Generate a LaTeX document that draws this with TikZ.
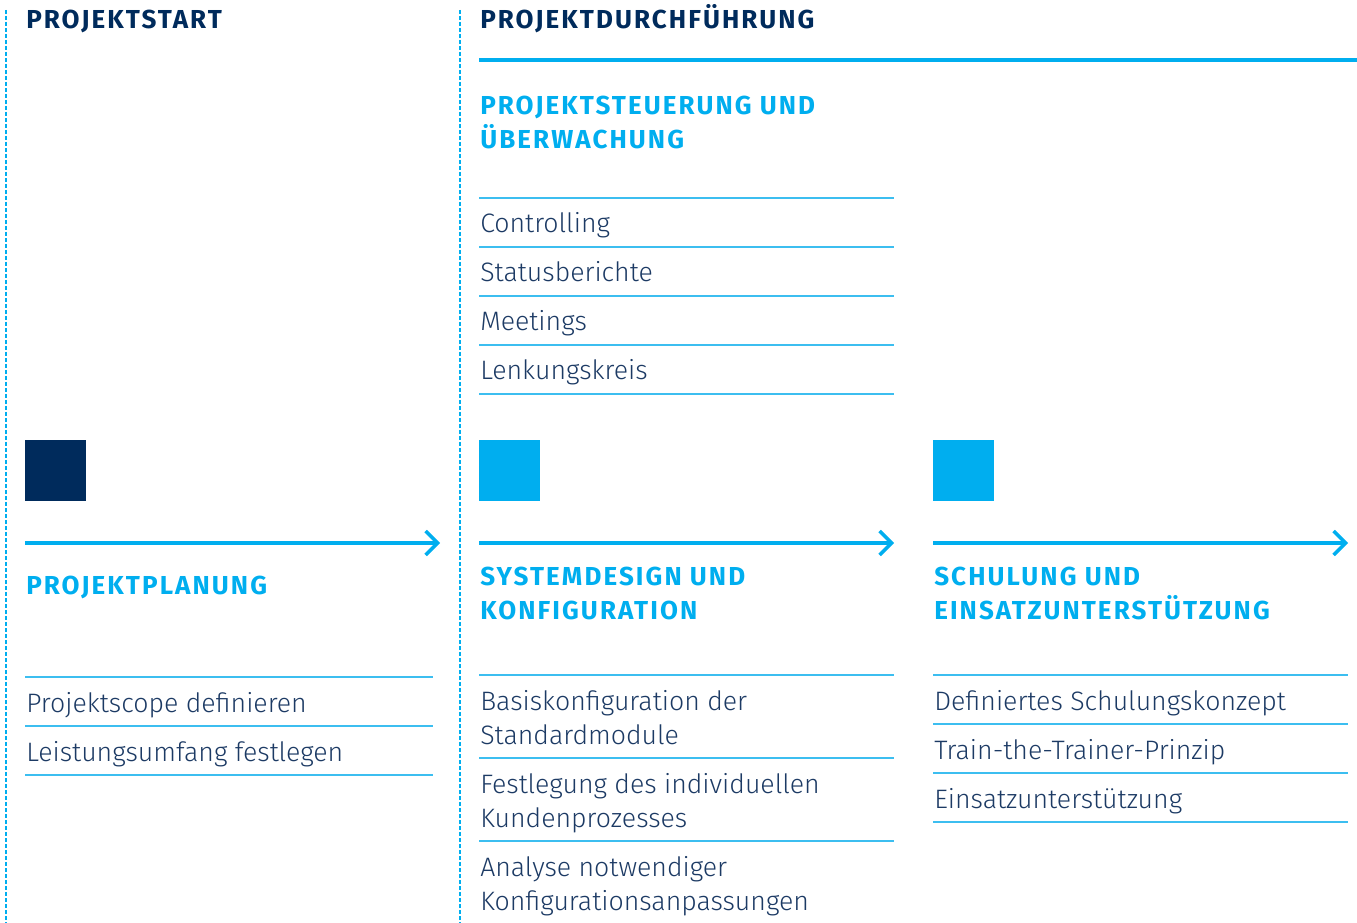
\documentclass[tikz,border=0pt]{standalone}
\usepackage{fontspec}
\setmainfont{Fira Sans}
\newfontfamily\headfont{Fira Sans}[LetterSpace=8]
\newfontfamily\bodyfont{Fira Sans Light}
\usepackage{tikz}
\usetikzlibrary{arrows.meta, positioning}
\definecolor{navycolor}{RGB}{0, 43, 92}
\definecolor{cyancolor}{RGB}{0, 174, 239}
\definecolor{rulecolor}{RGB}{60, 190, 240}
\definecolor{itemcolor}{RGB}{28, 58, 100}

\begin{document}
\begin{tikzpicture}[x=0.75pt, y=-0.75pt,
    stage/.style={anchor=base west, inner sep=0, align=left, text=cyancolor, font=\headfont\bfseries\fontsize{19.5}{25.5}\selectfont},
    item/.style={anchor=base west, inner sep=0, align=left, text=itemcolor, font=\bodyfont\fontsize{20}{25.2}\selectfont},
    rule/.style={draw=rulecolor, line width=1pt},
    flow/.style={draw=cyancolor, line width=2.6pt, -{Straight Barb[length=9pt, width=18pt, line width=2.6pt]}},
    marker/.style={minimum size=45.75pt, inner sep=0, outer sep=0},
    divider/.style={draw=cyancolor, line width=1pt, dash pattern=on 3pt off 1.5pt}
]
    \useasboundingbox (0,0) rectangle (1357,923);
    % phase dividers
    \draw[divider] (6,10) -- (6,923);
    \draw[divider] (460,10) -- (460,923);

    \node[stage, text=navycolor] (start) at (26,29) {PROJEKTSTART};
    \node[stage, text=navycolor] (run) at (480,29) {PROJEKTDURCHFÜHRUNG};
    \draw[cyancolor, line width=3pt] (479,60) -- (1357,60);

    % steering (base = last line)
    \node[stage] (steer) at (480,149) {PROJEKTSTEUERUNG UND\\ÜBERWACHUNG};
    \foreach \y/\t in {198/Controlling, 247/Statusberichte, 296/Meetings, 345/Lenkungskreis}
    {
        \draw[rule] (479,\y) -- (894,\y);
        \node[item] (steer-\y) at (480,\y+35) {\t};
    }
    \draw[rule] (479,394) -- (894,394);

    % phases
    \node[marker, fill=navycolor] (mark-plan) at (55.5,470.5) {};
    \node[marker, fill=cyancolor] (mark-design) at (509.5,470.5) {};
    \node[marker, fill=cyancolor] (mark-training) at (963.5,470.5) {};

    \draw[flow] (25,543) -- (440,543);
    \draw[flow] (479,543) -- (894,543);
    \draw[flow] (933,543) -- (1348,543);

    \node[stage] (plan) at (26,594) {PROJEKTPLANUNG};
    \node[stage] (design) at (480,619) {SYSTEMDESIGN UND\\KONFIGURATION};
    \node[stage] (training) at (934,619) {SCHULUNG UND\\EINSATZUNTERSTÜTZUNG};

    % planning items
    \foreach \y/\t in {677/Projektscope definieren, 726/Leistungsumfang festlegen}
    {
        \draw[rule] (25,\y) -- (433,\y);
        \node[item] (plan-\y) at (26,\y+35) {\t};
    }
    \draw[rule] (25,775) -- (433,775);

    % design items
    \foreach \y/\t in {675/{Basiskonfiguration der\\Standardmodule}, 758/{Festlegung des individuellen\\Kundenprozesses}, 841/{Analyse notwendiger\\Konfigurationsanpassungen}}
    {
        \draw[rule] (479,\y) -- (894,\y);
        \node[item] (design-\y) at (480,\y+69) {\t};
    }

    % training items
    \foreach \y/\t in {675/Definiertes Schulungskonzept, 724/Train-the-Trainer-Prinzip, 773/Einsatzunterstützung}
    {
        \draw[rule] (933,\y) -- (1348,\y);
        \node[item] (training-\y) at (934,\y+35) {\t};
    }
    \draw[rule] (933,822) -- (1348,822);
\end{tikzpicture}
\end{document}
